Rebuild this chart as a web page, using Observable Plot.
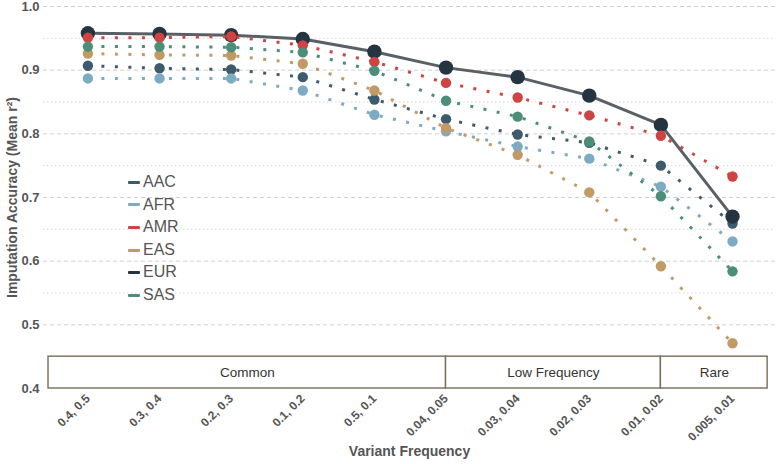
<!DOCTYPE html>
<html>
<head>
<meta charset="utf-8">
<script src="https://cdn.jsdelivr.net/npm/d3@7"></script>
<script src="https://cdn.jsdelivr.net/npm/@observablehq/plot@0.6"></script>
<style>
  body { margin: 0; background: #fff; font-family: "Liberation Sans", Arial, sans-serif; }
  #wrap { position: relative; width: 777px; height: 464px; }
  #legend { position: absolute; left: 128px; top: 171px; font-size: 16px; color: #555; line-height: 22.6px; }
  #legend .item { display: flex; align-items: center; height: 22.6px; }
  #legend .sw { width: 12px; height: 3px; margin-right: 3px; border-radius: 1px; }
</style>
</head>
<body>
<div id="wrap"><div id="legend"></div></div>
<script>
const freqLabels = ["0.4, 0.5", "0.3, 0.4", "0.2, 0.3", "0.1, 0.2", "0.5, 0.1", "0.04, 0.05", "0.03, 0.04", "0.02, 0.03", "0.01, 0.02", "0.005, 0.01"];
const seriesNames = ["AAC", "AFR", "AMR", "EAS", "EUR", "SAS"];
const AAC = [0.907, 0.903, 0.901, 0.889, 0.854, 0.823, 0.799, 0.786, 0.750, 0.659];
const AFR = [0.887, 0.887, 0.887, 0.868, 0.830, 0.804, 0.780, 0.761, 0.717, 0.631];
const AMR = [0.951, 0.951, 0.953, 0.939, 0.913, 0.880, 0.857, 0.829, 0.797, 0.733];
const EAS = [0.926, 0.924, 0.923, 0.910, 0.868, 0.809, 0.767, 0.708, 0.592, 0.471];
const EUR = [0.958, 0.957, 0.955, 0.949, 0.929, 0.904, 0.889, 0.860, 0.814, 0.670];
const SAS = [0.937, 0.937, 0.936, 0.928, 0.899, 0.852, 0.827, 0.788, 0.702, 0.584];
const bandNames = ["Common", "Low Frequency", "Rare"];
const bandFrom = [0, 5, 8];
const bandTo = [5, 8, 9];
const yTicks = [0.4, 0.5, 0.6, 0.7, 0.8, 0.9, 1.0];

const colors = {AAC: "#3e5b6e", AFR: "#7eabc4", AMR: "#cf4343", EAS: "#c29a66", EUR: "#243440", SAS: "#4b8f78"};
const valuesBy = {AAC, AFR, AMR, EAS, EUR, SAS};
const rows = s => valuesBy[s].map((v, i) => ({series: s, i, v}));

const last = freqLabels.length - 1;
const bands = bandNames.map((name, k) => ({
  name,
  x1: bandFrom[k] === 0 ? bandFrom[k] - 0.55 : bandFrom[k],
  x2: bandTo[k] === last ? bandTo[k] + 0.49 : bandTo[k]
}));

const majors = yTicks.filter(d => d > 0.45);
const minors = yTicks.slice(0, -1).map(d => +(d + 0.05).toFixed(2)).filter(d => d > 0.46);

const dotted = s => [
  Plot.line(rows(s), {x: "i", y: "v", stroke: colors[s], strokeWidth: 3, strokeDasharray: "3,10.5", strokeLinecap: "butt"}),
  Plot.dot(rows(s), {x: "i", y: "v", r: 5.2, fill: colors[s]})
];

const chart = Plot.plot({
  width: 777,
  height: 464,
  marginLeft: 43,
  marginRight: 2,
  marginTop: 6,
  marginBottom: 76,
  style: {fontFamily: "'Liberation Sans', Arial, sans-serif", background: "#fff"},
  x: {type: "linear", domain: [-0.62, 9.6]},
  y: {domain: [0.4, 1.0]},
  marks: [
    Plot.ruleY(minors, {stroke: "#d6d6d6", strokeWidth: 1, strokeDasharray: "1.5,2.5"}),
    Plot.ruleY(majors, {stroke: "#d0d0d0", strokeWidth: 1, strokeDasharray: "4,3"}),
    Plot.rect(bands, {x1: "x1", x2: "x2", y1: 0.4, y2: 0.45, fill: "#fff", stroke: "#7b6b57", strokeWidth: 1.4}),
    Plot.text(bands, {x: d => (d.x1 + d.x2) / 2, y: 0.425, text: "name", fontSize: 13.5, fill: "#333"}),
    ...dotted("AAC"),
    ...dotted("AFR"),
    Plot.line(rows("EUR"), {x: "i", y: "v", stroke: "#596166", strokeWidth: 3}),
    Plot.dot(rows("EUR"), {x: "i", y: "v", r: 7.2, fill: colors.EUR}),
    ...dotted("AMR"),
    ...dotted("EAS"),
    ...dotted("SAS"),
    Plot.axisY({ticks: yTicks, tickFormat: d3.format(".1f"), tickSize: 0, tickPadding: 4, fontSize: 13, fontWeight: "bold", fill: "#555", label: null}),
    Plot.axisX({ticks: d3.range(freqLabels.length), tickFormat: i => freqLabels[i], tickRotate: -45, tickSize: 0, tickPadding: 8, fontSize: 12, fontWeight: "bold", fill: "#555", label: null}),
    Plot.text(["Imputation Accuracy (Mean r²)"], {frameAnchor: "left", textAnchor: "middle", dx: -31, rotate: -90, text: d => d, fontSize: 14, fontWeight: "bold", fill: "#555"}),
    Plot.text(["Variant Frequency"], {frameAnchor: "bottom", dy: 67, text: d => d, fontSize: 14, fontWeight: "bold", fill: "#555"})
  ]
});
const wrap = document.getElementById("wrap");
wrap.insertBefore(chart, wrap.firstChild);

const legend = document.getElementById("legend");
for (const s of seriesNames) {
  const item = document.createElement("div");
  item.className = "item";
  item.innerHTML = `<span class="sw" style="background:${colors[s]}"></span><span>${s}</span>`;
  legend.appendChild(item);
}
</script>
</body>
</html>
